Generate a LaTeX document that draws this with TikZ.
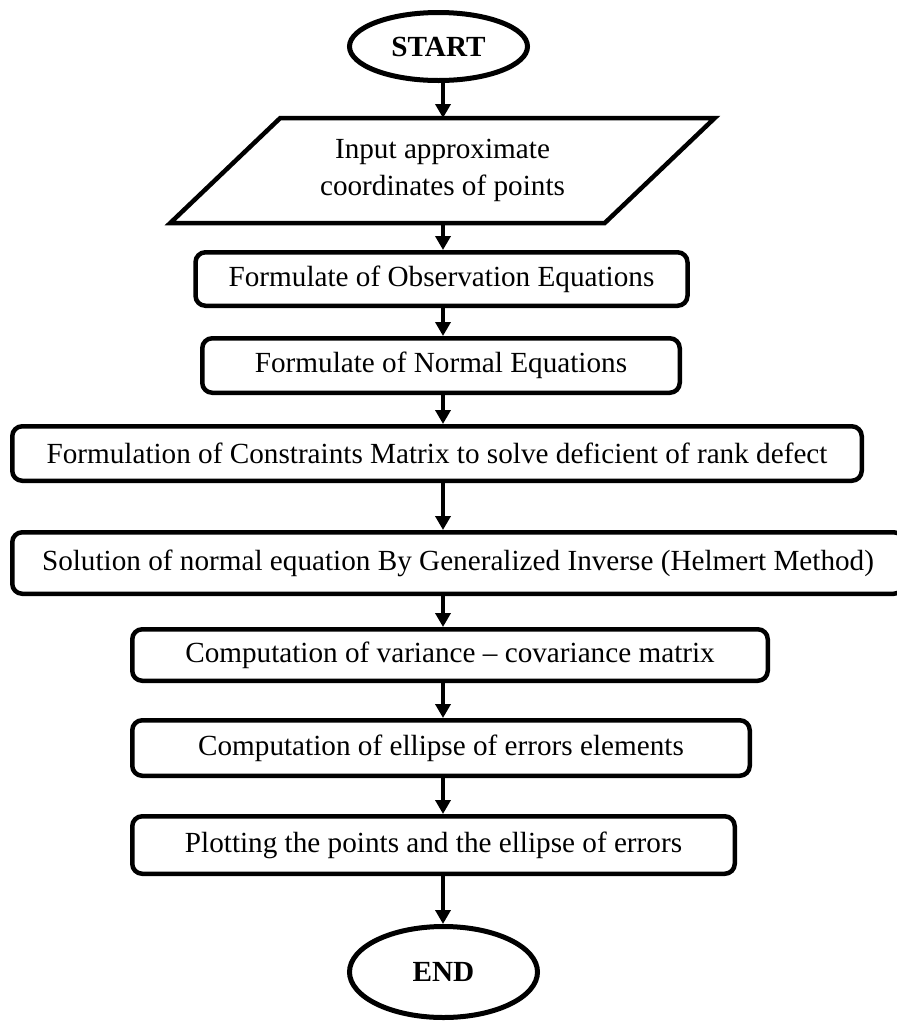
\documentclass[tikz,border=0pt]{standalone}
\usepackage{fontspec}
\setmainfont{Liberation Serif}
\usetikzlibrary{shapes.geometric,arrows.meta}

\begin{document}
\begin{tikzpicture}[x=1pt,y=1pt]
\tikzstyle{every node}+=[inner sep=0pt, font=\fontsize{29.2}{37}\selectfont]
\tikzstyle{terminal}=[draw, ellipse, line width=5pt, font=\fontsize{29.2}{37}\selectfont\bfseries]
\tikzstyle{process}=[draw, rectangle, rounded corners=10pt, line width=4.5pt]
\tikzstyle{io}=[line width=4.5pt]
\tikzstyle{flow}=[line width=4pt, -{Triangle[width=15pt,length=14pt]}]
\useasboundingbox (0,0) rectangle (897,-1021);
\coordinate (axis) at (443,0);
\node [terminal, minimum width=178pt, minimum height=68pt] (start) at (438.5,-46.5) {START};
\node [minimum width=430pt, minimum height=100.5pt, outer sep=2.25pt, align=center] (input) at (442.5,-170.5) {Input approximate\\coordinates of points};
\draw [io] ([xshift=-55pt]input.south west) -- ([xshift=55pt]input.north west) -- ([xshift=55pt]input.north east) -- ([xshift=-55pt]input.south east) -- cycle;
\node [process, minimum width=492pt, minimum height=53.5pt] (obs) at (441.5,-279) {Formulate of Observation Equations};
\node [process, minimum width=477.5pt, minimum height=54.5pt] (normal) at (441,-365.5) {Formulate of Normal Equations};
\node [process, minimum width=849.5pt, minimum height=54.5pt] (constr) at (437,-453.5) {Formulation of Constraints Matrix to solve deficient of rank defect};
\node [process, minimum width=891.5pt, minimum height=61.5pt] (helmert) at (458,-563) {Solution of normal equation By Generalized Inverse (Helmert Method)};
\node [process, minimum width=635.5pt, minimum height=51.5pt] (varcov) at (450,-655) {Computation of variance -- covariance matrix};
\node [process, minimum width=617.5pt, minimum height=55.5pt] (ellerr) at (441,-748) {Computation of ellipse of errors elements};
\node [process, minimum width=602.5pt, minimum height=57.5pt] (plot) at (433.5,-845) {Plotting the points and the ellipse of errors};
\node [terminal, minimum width=188pt, minimum height=91pt] (end) at (443.5,-972) {END};
\draw [flow] (start.south -| axis) -- (input.north -| axis);
\draw [flow] (input.south -| axis) -- (obs.north -| axis);
\draw [flow] (obs.south -| axis) -- (normal.north -| axis);
\draw [flow] (normal.south -| axis) -- (constr.north -| axis);
\draw [flow] (constr.south -| axis) -- (helmert.north -| axis);
\draw [flow] (helmert.south -| axis) -- (varcov.north -| axis);
\draw [flow] (varcov.south -| axis) -- (ellerr.north -| axis);
\draw [flow] (ellerr.south -| axis) -- (plot.north -| axis);
\draw [flow] (plot.south -| axis) -- (end.north -| axis);
\end{tikzpicture}
\end{document}
